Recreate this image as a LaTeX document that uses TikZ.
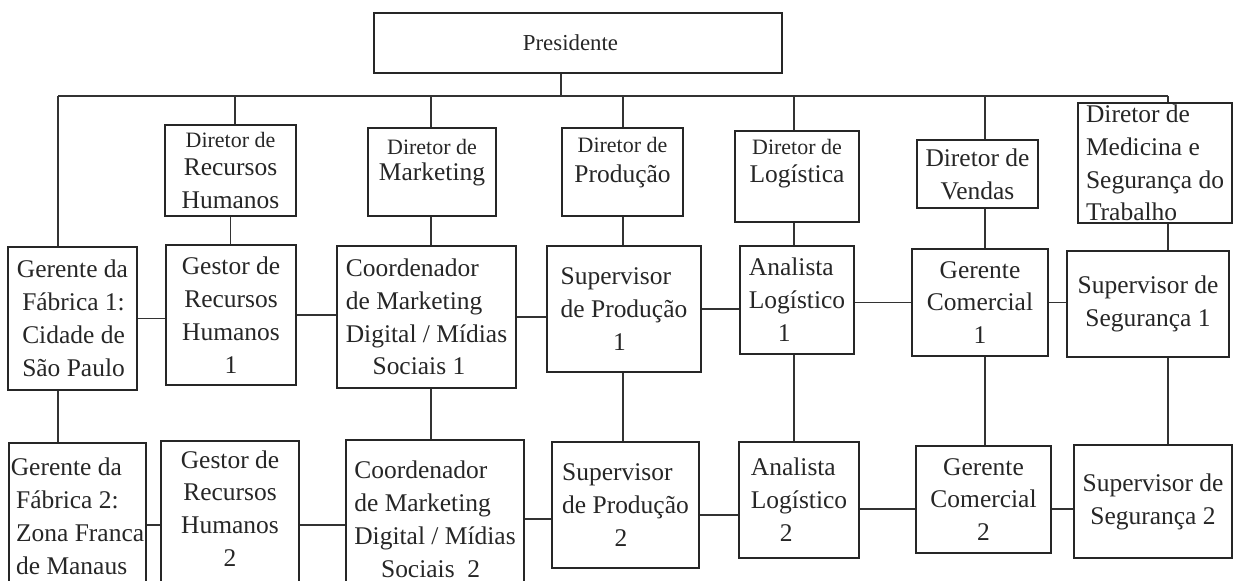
\documentclass[tikz,border=0pt]{standalone}
\usepackage{fontspec}
\setmainfont{Liberation Serif}
\usepackage{tikz}
\newcommand{\bigtxt}{\fontsize{14.5}{18.7}\selectfont}
\newcommand{\smalltxt}{\fontsize{12.5}{15}\selectfont}

\begin{document}
\begin{tikzpicture}[x=0.02cm, y=-0.02cm, color=black!85]
      \tikzstyle{box} = [draw=black!85, rectangle, line width=0.8pt, inner sep=0pt, align=center, font=\bigtxt]
      \tikzstyle{leftbox} = [box, align=left]
      \tikzstyle{link} = [draw=black!80, line width=0.7pt]
      \tikzset{boxsize/.style 2 args={minimum width=#1*0.02cm, minimum height=#2*0.02cm}}
      \useasboundingbox (0,0) rectangle (1240,581);
      \clip (0,0) rectangle (1240,581);
      %nodes
      \node[box, boxsize={408}{60}, font=\fontsize{13}{15}\selectfont] (pres) at (578,43) {Presidente\hspace*{0.3cm}};
      \node[box, boxsize={131}{91}]  (drh)   at (230.5,170.5) {{\smalltxt Diretor de}\\[-3pt]Recursos\\Humanos};
      \node[box, boxsize={128}{88}]  (dmkt)  at (432,172)     {{\smalltxt Diretor de}\\[-4pt]Marketing\\[-5pt]~};
      \node[box, boxsize={121}{88}]  (dprod) at (622.5,172)   {{\smalltxt Diretor de}\\[-2pt]Produção\\[-5pt]~};
      \node[box, boxsize={124}{91}]  (dlog)  at (797,176.5)   {{\smalltxt Diretor de}\\[-3pt]Logística\\[-1pt]~};
      \node[box, boxsize={121}{68}]  (dven)  at (977.5,174)   {Diretor de\\Vendas};
      \node[leftbox, boxsize={154}{120}] (dmed) at (1155,163) {Diretor de\\Medicina e\\Segurança do\\Trabalho};

      \node[leftbox, boxsize={129}{143}] (gf1)  at (72.5,318.5) {Gerente da\\\hspace*{3pt}Fábrica 1:\\\hspace*{3pt}Cidade de\\\hspace*{3pt}São Paulo};
      \node[box, boxsize={130}{140}]     (grh1) at (231,315)    {Gestor de\\Recursos\\Humanos\\1};
      \node[leftbox, boxsize={179}{142}] (cm1)  at (426.5,317)  {Coordenador\\de Marketing\\Digital / Mídias\\\hspace*{1.05em}Sociais 1};
      \node[leftbox, boxsize={154}{126}] (sp1)  at (624,309)    {Supervisor\\de Produção\\\hspace*{1.05cm}1};
      \node[leftbox, boxsize={114}{108}] (al1)  at (797,300)    {Analista\\Logístico\\\hspace*{0.58cm}1};
      \node[box, boxsize={136}{107}]     (gc1)  at (980,302.5)  {Gerente\\Comercial\\1};
      \node[box, boxsize={162}{106}]     (ss1)  at (1148,304)   {Supervisor de\\Segurança 1};

      \node[leftbox, boxsize={137}{147}] (gf2)  at (77.5,516.5) {Gerente da\\\hspace*{3pt}Fábrica 2:\\\hspace*{3pt}Zona Franca\\\hspace*{3pt}de Manaus};
      \node[box, boxsize={138}{168}]     (grh2) at (230,525)    {Gestor de\\Recursos\\Humanos\\2\\~};
      \node[leftbox, boxsize={178}{158}] (cm2)  at (435,519)    {Coordenador\\de Marketing\\Digital / Mídias\\\hspace*{1.05em}Sociais~~2};
      \node[leftbox, boxsize={147}{126}] (sp2)  at (625.5,505)  {Supervisor\\de Produção\\\hspace*{1.05cm}2};
      \node[leftbox, boxsize={120}{116}] (al2)  at (799,500)    {Analista\\Logístico\\\hspace*{0.58cm}2};
      \node[box, boxsize={135}{107}]     (gc2)  at (983.5,499.5) {Gerente\\Comercial\\2};
      \node[box, boxsize={158}{113}]     (ss2)  at (1153,501.5) {Supervisor de\\Segurança 2};

      %bus
      \coordinate (kF) at (58,96);
      \coordinate (kR) at (235,96);
      \coordinate (kM) at (431,96);
      \coordinate (kP) at (623,96);
      \coordinate (kL) at (794,96);
      \coordinate (kV) at (985,96);
      \coordinate (kS) at (1168,96);

      %lines
      \draw[link] (kF) -- (kS);
      \draw[link] ([xshift=-0.34cm]pres.south) -- ([xshift=-0.34cm]pres.south |- kF);
      \draw[link] (kF) -- (kF |- gf1.north);
      \draw[link] (kR) -- (kR |- drh.north);
      \draw[link] (kM) -- (kM |- dmkt.north);
      \draw[link] (kP) -- (kP |- dprod.north);
      \draw[link] (kL) -- (kL |- dlog.north);
      \draw[link] (kV) -- (kV |- dven.north);
      \draw[link] (kS) -- (kS |- dmed.north);

      \draw[link] (drh.south) -- (drh.south |- grh1.north);
      \draw[link] (dmkt.south -| kM) -- (cm1.north -| kM);
      \draw[link] (dprod.south -| kP) -- (sp1.north -| kP);
      \draw[link] (dlog.south -| kL) -- (al1.north -| kL);
      \draw[link] (dven.south -| kV) -- (gc1.north -| kV);
      \draw[link] (dmed.south -| kS) -- (ss1.north -| kS);

      \draw[link] (gf1.south -| kF) -- (gf2.north -| kF);
      \draw[link] (cm1.south -| kM) -- (cm2.north -| kM);
      \draw[link] (sp1.south -| kP) -- (sp2.north -| kP);
      \draw[link] (al1.south -| kL) -- (al2.north -| kL);
      \draw[link] (gc1.south -| kV) -- (gc2.north -| kV);
      \draw[link] (ss1.south -| kS) -- (ss2.north -| kS);

      \draw[link] (gf1.east) -- (gf1.east -| grh1.west);
      \draw[link] (grh1.east) -- (grh1.east -| cm1.west);
      \draw[link] (cm1.east) -- (cm1.east -| sp1.west);
      \draw[link] (sp1.east) -- (sp1.east -| al1.west);
      \draw[link] (gc1.west) -- (gc1.west -| al1.east);
      \draw[link] (gc1.east) -- (gc1.east -| ss1.west);

      \draw[link] (grh2.west) -- (grh2.west -| gf2.east);
      \draw[link] (grh2.east) -- (grh2.east -| cm2.west);
      \draw[link] (cm2.east) -- (cm2.east -| sp2.west);
      \draw[link] ([yshift=-0.2cm]sp2.east) -- ([yshift=-0.2cm]sp2.east -| al2.west);
      \draw[link] ([yshift=-0.18cm]al2.east) -- ([yshift=-0.18cm]al2.east -| gc2.west);
      \draw[link] ([yshift=-0.19cm]gc2.east) -- ([yshift=-0.19cm]gc2.east -| ss2.west);
    \end{tikzpicture}
\end{document}
